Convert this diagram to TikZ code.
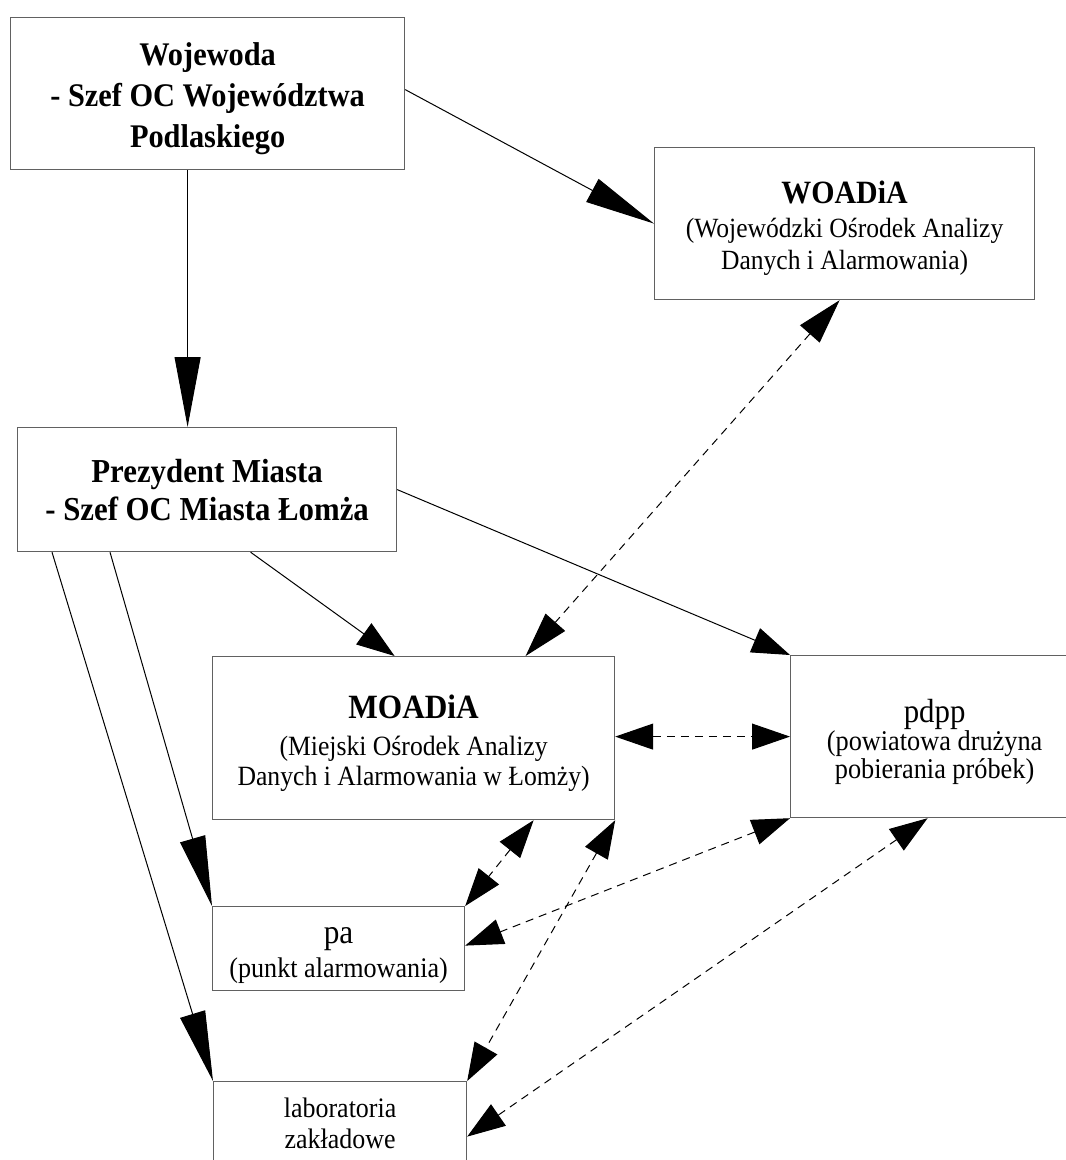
\documentclass[tikz,border=0pt]{standalone}
\usepackage{fontspec}
\setmainfont{Liberation Serif}[FakeStretch=0.92]
\usetikzlibrary{arrows.meta}
\newcommand{\fs}[2]{\fontsize{#1}{#2}\selectfont}
\newcommand{\topstrut}[1]{\rule{0pt}{#1}}
\newcommand{\botstrut}[1]{\rule[-#1]{0pt}{#1}}
\tikzset{
  box/.style={draw=black!62, line width=1.2pt, inner sep=0pt, align=center, anchor=north west},
  conn/.style={line width=1pt, draw=black},
  dconn/.style={line width=1pt, draw=black, dash pattern=on 8pt off 6pt},
  LongHead/.tip={Triangle[length=70pt,width=26pt]},
  ShortHead/.tip={Triangle[length=38pt,width=26pt]},
  MidHead/.tip={Triangle[length=45pt,width=26pt]}
}
\begin{document}
\begin{tikzpicture}[x=1pt,y=1pt]
\useasboundingbox (0,0) rectangle (1066,-1160);
\fill[white] (0,0) rectangle (1066,-1160);
\clip (0,0) rectangle (1066,-1160);

\node[box, minimum width=394pt, minimum height=152pt, font=\fs{33}{41}\bfseries] (woj) at (10,-17)
  {\topstrut{36pt}Wojewoda\\ - Szef OC Województwa\\ Podlaskiego\botstrut{10pt}};
\node[box, minimum width=380pt, minimum height=152pt, font=\fs{27.8}{32}] (woadia) at (654,-147)
  {\topstrut{36pt}{\bfseries\fs{32.5}{32}WOADiA}\\[2pt] (Wojewódzki Ośrodek Analizy\\ Danych i Alarmowania)\botstrut{10pt}};
\node[box, minimum width=379pt, minimum height=124pt, font=\fs{33.5}{38}\bfseries] (prez) at (17,-427)
  {\topstrut{34pt}Prezydent Miasta\\ - Szef OC Miasta Łomża\botstrut{10pt}};
\node[box, minimum width=402pt, minimum height=163pt, font=\fs{27.9}{30}] (moadia) at (212,-656)
  {\topstrut{38pt}{\bfseries\fs{34}{30}MOADiA}\\[7pt] (Miejski Ośrodek Analizy\\ Danych i Alarmowania w Łomży)\botstrut{10pt}};
\node[box, minimum width=288pt, minimum height=162pt, font=\fs{28.6}{28}] (pdpp) at (790,-655)
  {\topstrut{38pt}{\fs{33.5}{28}pdpp}\\ (powiatowa drużyna\\ pobierania próbek)\botstrut{10pt}};
\node[box, minimum width=252pt, minimum height=84pt, font=\fs{28.4}{34}] (pa) at (212,-906)
  {\topstrut{34pt}{\fs{34}{34}pa}\\ (punkt alarmowania)\botstrut{10pt}};
\node[box, minimum width=253pt, minimum height=87pt, font=\fs{28.2}{31}] (lab) at (213,-1081)
  {\topstrut{26pt}laboratoria\\ zakładowe\botstrut{10pt}};

\draw[conn,-LongHead] ([xshift=-20pt]woj.south) -- ([xshift=-19.5pt]prez.north);
\draw[conn,-LongHead] ([yshift=4pt]woj.east) -- (woadia.west);
\draw[dconn,MidHead-MidHead] ([xshift=-5pt]woadia.south) -- ([xshift=112pt]moadia.north);
\draw[conn,-ShortHead] (prez.east) -- (pdpp.north west);
\draw[conn,-ShortHead] ([xshift=43.5pt]prez.south) -- ([xshift=-19pt]moadia.north);
\draw[conn,-LongHead] ([xshift=93pt]prez.south west) -- (pa.north west);
\draw[conn,-LongHead] ([xshift=35pt]prez.south west) -- (lab.north west);
\draw[dconn,ShortHead-ShortHead] ([yshift=1.5pt]moadia.east) -- (pdpp.west);
\draw[dconn,ShortHead-ShortHead] ([xshift=120pt]moadia.south) -- (pa.north east);
\draw[dconn,ShortHead-ShortHead] (moadia.south east) -- (lab.north east);
\draw[dconn,ShortHead-ShortHead] (pdpp.south west) -- ([yshift=3pt]pa.east);
\draw[dconn,ShortHead-ShortHead] ([xshift=-7pt]pdpp.south) -- ([yshift=-11.5pt]lab.east);
\end{tikzpicture}
\end{document}
